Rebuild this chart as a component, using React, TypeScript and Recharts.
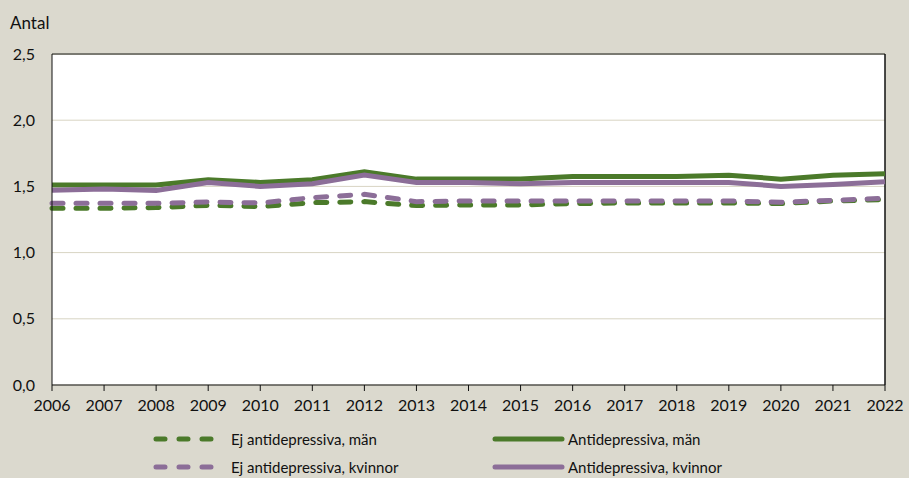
import React from 'react';
import { LineChart, Line, XAxis, YAxis, CartesianGrid, ReferenceLine } from 'recharts';

// Years on the x axis
const years = ['2006', '2007', '2008', '2009', '2010', '2011', '2012', '2013', '2014', '2015', '2016', '2017', '2018', '2019', '2020', '2021', '2022'];

// Series values
const ejMan = [1.335, 1.335, 1.34, 1.357, 1.348, 1.377, 1.385, 1.355, 1.36, 1.36, 1.37, 1.375, 1.375, 1.375, 1.37, 1.39, 1.4];
const ejKvinnor = [1.372, 1.372, 1.372, 1.382, 1.375, 1.415, 1.44, 1.385, 1.39, 1.39, 1.39, 1.39, 1.39, 1.39, 1.38, 1.395, 1.41];
const antiMan = [1.51, 1.51, 1.51, 1.55, 1.53, 1.55, 1.61, 1.555, 1.555, 1.555, 1.575, 1.575, 1.575, 1.585, 1.555, 1.585, 1.595];
const antiKvinnor = [1.47, 1.48, 1.47, 1.53, 1.5, 1.52, 1.585, 1.53, 1.53, 1.52, 1.53, 1.53, 1.53, 1.53, 1.5, 1.515, 1.535];

const yTicks = [0, 0.5, 1, 1.5, 2, 2.5];

const GREEN = '#4b7a2a';
const PURPLE = '#8c6e98';
const BG = '#dbd9ce';
const FONT = 'Lato, "DejaVu Sans", sans-serif';

const data = years.map((year, i) => ({
  year,
  ejMan: ejMan[i],
  ejKvinnor: ejKvinnor[i],
  antiMan: antiMan[i],
  antiKvinnor: antiKvinnor[i],
}));

const legendItems = [
  { label: 'Ej antidepressiva, män', color: GREEN, dashed: true, left: 153, top: 439 },
  { label: 'Antidepressiva, män', color: GREEN, dashed: false, left: 492, top: 439 },
  { label: 'Ej antidepressiva, kvinnor', color: PURPLE, dashed: true, left: 153, top: 467 },
  { label: 'Antidepressiva, kvinnor', color: PURPLE, dashed: false, left: 492, top: 467 },
];

const formatTick = (v: number) => v.toFixed(1).replace('.', ',');

export default function App() {
  return (
    <div style={{ position: 'absolute', left: 0, top: 0, width: 909, height: 478, background: BG, fontFamily: FONT, overflow: 'hidden' }}>
      <div style={{ position: 'absolute', left: 10, top: 12, fontSize: 17, color: '#111' }}>Antal</div>
      <LineChart width={909} height={478} data={data} margin={{ top: 54, right: 24, left: 0, bottom: 63 }}>
        <CartesianGrid vertical={false} stroke="#d8d4c3" fill="#ffffff" />
        <XAxis
          dataKey="year"
          stroke="#111"
          tickSize={6}
          tickMargin={9}
          height={30}
          tick={{ fontSize: 16, fill: '#111', fontFamily: FONT }}
          interval={0}
        />
        <YAxis
          domain={[0, 2.5]}
          ticks={yTicks}
          width={52}
          stroke="#111"
          tickLine={false}
          tickMargin={11}
          tickFormatter={formatTick}
          tick={{ fontSize: 16, fill: '#111', fontFamily: FONT }}
        />
        <ReferenceLine y={2.5} stroke="#7a7a72" strokeWidth={2} />
        <ReferenceLine x="2022" stroke="#111" strokeWidth={1.5} />
        <Line dataKey="ejMan" stroke={GREEN} strokeWidth={5} strokeDasharray="11 13" strokeLinecap="round" dot={false} isAnimationActive={false} />
        <Line dataKey="ejKvinnor" stroke={PURPLE} strokeWidth={5} strokeDasharray="11 13" strokeLinecap="round" dot={false} isAnimationActive={false} />
        <Line dataKey="antiMan" stroke={GREEN} strokeWidth={5} dot={false} isAnimationActive={false} />
        <Line dataKey="antiKvinnor" stroke={PURPLE} strokeWidth={5} dot={false} isAnimationActive={false} />
      </LineChart>
      {legendItems.map((item) => (
        <div key={item.label} style={{ position: 'absolute', left: item.left, top: item.top - 10, height: 20, display: 'flex', alignItems: 'center', fontSize: 15, color: '#111', whiteSpace: 'nowrap' }}>
          <svg width={item.dashed ? 72 : 74} height={20}>
            {item.dashed ? (
              <line x1={3} y1={10} x2={66} y2={10} stroke={item.color} strokeWidth={5} strokeLinecap="round" strokeDasharray="9 14" />
            ) : (
              <line x1={3} y1={10} x2={70} y2={10} stroke={item.color} strokeWidth={5} strokeLinecap="round" />
            )}
          </svg>
          <span style={{ marginLeft: item.dashed ? 6 : 2 }}>{item.label}</span>
        </div>
      ))}
    </div>
  );
}
